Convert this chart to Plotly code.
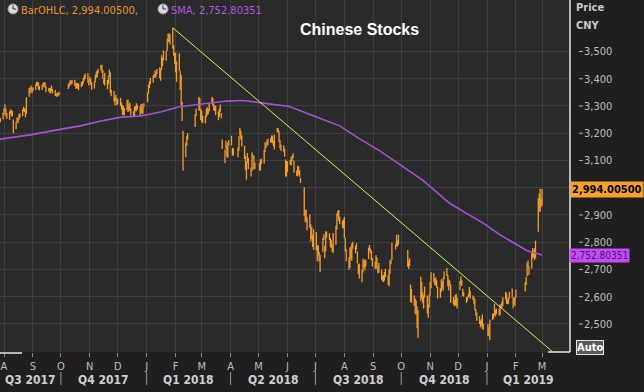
import pandas as pd
import plotly.graph_objects as go

# ---------------- data ----------------
# Daily OHLC bars, one line per month (Jul-2017 ... Mar-2019)
opens = [
    3246, 3244, 3252,
    3274, 3290, 3283, 3266, 3257, 3276, 3274, 3274, 3246, 3215, 3240, 3249, 3250, 3260, 3270, 3289, 3286, 3284, 3275, 3338, 3359, 3361, 3363,
    3362, 3365, 3377, 3379, 3384, 3363, 3363, 3375, 3378, 3384, 3368, 3355, 3362, 3352, 3365, 3355, 3352, 3340, 3341, 3345, 3340,
    3371, 3377, 3384, 3387, 3388, 3392, 3376, 3373, 3378, 3363, 3378, 3380, 3389, 3398, 3407, 3413, 3388,
    3394, 3392, 3382, 3368, 3391, 3414, 3411, 3427, 3437, 3449, 3421, 3394, 3399, 3366, 3388, 3411, 3416, 3345, 3351, 3313, 3330, 3326,
    3313, 3313, 3302, 3297, 3287, 3270, 3287, 3316, 3283, 3304, 3283, 3267, 3267, 3294, 3282, 3298, 3295, 3277, 3302, 3271, 3296,
    3314, 3347, 3371, 3386, 3392, 3406, 3415, 3416, 3423, 3428, 3403, 3437, 3452, 3475, 3476, 3505, 3550, 3554, 3550, 3563, 3512, 3481,
    3478, 3419, 3435, 3426, 3384, 3305, 3208, 3122, 3165, 3185, 3225, 3270, 3289, 3326, 3280,
    3243, 3258, 3248, 3260, 3290, 3274, 3287, 3314, 3325, 3306, 3289, 3295, 3272, 3268, 3300, 3271, 3160, 3127, 3160, 3145, 3117, 3165,
    3169, 3146, 3137, 3117, 3140, 3198, 3205, 3188, 3152, 3112, 3040, 3098, 3104, 3060, 3072, 3108, 3111, 3079,
    3075, 3073, 3097, 3091, 3134, 3157, 3163, 3176, 3172, 3172, 3183, 3172, 3146, 3207, 3212, 3206, 3164, 3154, 3137, 3131, 3102, 3042,
    3084, 3085, 3088, 3111, 3118, 3099, 3062, 3050, 3071, 3049, 3035, 2990, 2896, 2911, 2864, 2898, 2854, 2840, 2809, 2785,
    2835, 2768, 2782, 2759, 2722, 2766, 2822, 2754, 2775, 2838, 2828, 2807, 2797, 2788, 2761, 2808, 2858, 2906, 2904, 2883, 2870, 2862,
    2877, 2813, 2763, 2737, 2717, 2776, 2738, 2785, 2768, 2785, 2764, 2692, 2717, 2655, 2693, 2726, 2711, 2719, 2741, 2778, 2770, 2767, 2729,
    2718, 2717, 2743, 2700, 2697, 2699, 2672, 2666, 2674, 2690, 2677, 2643, 2690, 2729, 2740, 2778, 2786, 2799, 2796,
    2768, 2713, 2723, 2643, 2594, 2600, 2573, 2563, 2560, 2467, 2585, 2640, 2587, 2567, 2613, 2598, 2545, 2563,
    2623, 2643, 2654, 2656, 2670, 2651, 2629, 2601, 2618, 2653, 2631, 2668, 2683, 2681, 2627, 2653, 2634, 2589, 2586, 2574, 2609, 2566,
    2647, 2650, 2643, 2626, 2613, 2584, 2588, 2605, 2603, 2621, 2591, 2591, 2583, 2544, 2526, 2513, 2509, 2510, 2522, 2487,
    2497, 2461, 2446, 2529, 2534, 2534, 2541, 2541, 2548, 2536, 2568, 2571, 2568, 2598, 2609, 2576, 2582, 2594, 2608, 2589, 2591, 2580,
    2597, 2623, 2652, 2675, 2719, 2711, 2703, 2770, 2759, 2760, 2742, 2838, 2978, 2952, 2947,
    2954,
]
highs = [
    3254, 3256, 3276,
    3292, 3306, 3291, 3275, 3280, 3288, 3283, 3282, 3250, 3242, 3258, 3256, 3270, 3273, 3288, 3297, 3293, 3287, 3332, 3366, 3370, 3375, 3368,
    3368, 3380, 3390, 3387, 3386, 3373, 3378, 3385, 3388, 3386, 3372, 3365, 3366, 3367, 3375, 3361, 3359, 3348, 3347, 3350, 3351,
    3380, 3386, 3395, 3393, 3395, 3396, 3383, 3384, 3384, 3382, 3387, 3392, 3402, 3413, 3419, 3420, 3396,
    3407, 3400, 3387, 3390, 3415, 3427, 3430, 3437, 3450, 3451, 3432, 3402, 3422, 3395, 3410, 3433, 3423, 3360, 3355, 3333, 3341, 3329,
    3326, 3329, 3313, 3304, 3300, 3293, 3322, 3324, 3306, 3313, 3291, 3281, 3297, 3300, 3310, 3304, 3299, 3307, 3308, 3298, 3310,
    3349, 3379, 3392, 3403, 3412, 3417, 3430, 3427, 3436, 3442, 3437, 3486, 3476, 3504, 3502, 3546, 3566, 3566, 3562, 3587, 3523, 3495,
    3495, 3463, 3494, 3429, 3414, 3315, 3208, 3165, 3191, 3200, 3270, 3290, 3334, 3329, 3289,
    3283, 3265, 3264, 3290, 3295, 3290, 3311, 3334, 3328, 3309, 3300, 3301, 3280, 3291, 3305, 3274, 3177, 3140, 3172, 3154, 3166, 3175,
    3191, 3147, 3144, 3148, 3190, 3220, 3210, 3192, 3154, 3117, 3094, 3127, 3110, 3075, 3130, 3121, 3117, 3093,
    3091, 3104, 3106, 3138, 3167, 3163, 3176, 3180, 3183, 3192, 3191, 3173, 3194, 3219, 3218, 3208, 3174, 3159, 3155, 3143, 3104, 3097,
    3098, 3103, 3114, 3116, 3126, 3100, 3064, 3080, 3079, 3064, 3037, 3002, 2918, 2920, 2891, 2902, 2866, 2856, 2827, 2848,
    2837, 2786, 2790, 2764, 2753, 2815, 2829, 2786, 2839, 2839, 2833, 2815, 2808, 2792, 2834, 2860, 2905, 2915, 2918, 2893, 2879, 2883,
    2893, 2817, 2774, 2746, 2780, 2784, 2795, 2802, 2787, 2796, 2766, 2720, 2722, 2699, 2740, 2731, 2737, 2735, 2780, 2790, 2777, 2769, 2742,
    2729, 2752, 2744, 2712, 2724, 2700, 2679, 2679, 2691, 2703, 2679, 2700, 2734, 2737, 2798, 2793, 2827, 2806, 2827,
    2771, 2733, 2741, 2644, 2628, 2604, 2592, 2586, 2564, 2550, 2673, 2654, 2616, 2605, 2637, 2604, 2570, 2608,
    2654, 2690, 2686, 2666, 2671, 2659, 2637, 2631, 2664, 2657, 2670, 2693, 2705, 2681, 2663, 2659, 2645, 2599, 2587, 2606, 2611, 2597,
    2658, 2674, 2660, 2629, 2617, 2598, 2600, 2611, 2636, 2621, 2604, 2599, 2591, 2555, 2542, 2529, 2513, 2518, 2535, 2501,
    2500, 2488, 2515, 2537, 2538, 2574, 2552, 2556, 2556, 2571, 2573, 2582, 2598, 2618, 2612, 2590, 2597, 2618, 2630, 2596, 2598, 2599,
    2626, 2654, 2672, 2724, 2733, 2712, 2760, 2779, 2770, 2778, 2805, 2961, 2979, 2996, 2960,
    2995,
]
lows = [
    3230, 3240, 3250,
    3267, 3280, 3261, 3253, 3249, 3272, 3263, 3261, 3200, 3215, 3238, 3237, 3248, 3256, 3262, 3281, 3278, 3259, 3271, 3334, 3347, 3357, 3347,
    3354, 3360, 3373, 3373, 3360, 3358, 3359, 3371, 3369, 3367, 3350, 3354, 3348, 3346, 3355, 3346, 3337, 3335, 3334, 3337, 3339,
    3362, 3370, 3379, 3378, 3381, 3373, 3362, 3366, 3363, 3358, 3369, 3373, 3382, 3393, 3399, 3385, 3375,
    3389, 3378, 3360, 3364, 3387, 3404, 3405, 3420, 3431, 3422, 3400, 3381, 3375, 3361, 3380, 3408, 3347, 3336, 3317, 3303, 3318, 3303,
    3307, 3301, 3287, 3268, 3266, 3266, 3284, 3278, 3281, 3286, 3265, 3260, 3262, 3282, 3281, 3288, 3262, 3272, 3272, 3270, 3295,
    3314, 3346, 3366, 3380, 3386, 3403, 3404, 3406, 3417, 3402, 3393, 3433, 3447, 3468, 3466, 3502, 3535, 3534, 3526, 3510, 3484, 3455,
    3424, 3389, 3428, 3360, 3303, 3245, 3062, 3112, 3154, 3176, 3223, 3262, 3283, 3283, 3249,
    3241, 3237, 3236, 3260, 3266, 3270, 3280, 3311, 3300, 3283, 3282, 3266, 3248, 3261, 3279, 3255, 3142, 3091, 3143, 3114, 3110, 3154,
    3155, 3118, 3118, 3112, 3136, 3192, 3177, 3152, 3105, 3066, 3029, 3091, 3068, 3041, 3060, 3104, 3067, 3069,
    3063, 3062, 3087, 3089, 3130, 3146, 3156, 3155, 3165, 3167, 3163, 3152, 3140, 3204, 3203, 3167, 3145, 3135, 3130, 3114, 3041, 3042,
    3058, 3083, 3082, 3097, 3108, 3055, 3042, 3043, 3049, 3040, 3017, 2897, 2873, 2874, 2843, 2853, 2803, 2812, 2782, 2772,
    2770, 2730, 2752, 2729, 2691, 2764, 2808, 2741, 2767, 2816, 2808, 2782, 2779, 2764, 2761, 2790, 2846, 2894, 2878, 2866, 2853, 2850,
    2815, 2766, 2730, 2699, 2705, 2740, 2732, 2776, 2759, 2772, 2722, 2683, 2667, 2653, 2689, 2708, 2697, 2711, 2738, 2769, 2759, 2735, 2711,
    2702, 2708, 2701, 2686, 2688, 2662, 2657, 2653, 2659, 2672, 2644, 2638, 2683, 2719, 2736, 2773, 2786, 2783, 2792,
    2710, 2702, 2713, 2581, 2577, 2567, 2538, 2534, 2484, 2449, 2585, 2593, 2576, 2557, 2597, 2538, 2523, 2560,
    2604, 2631, 2654, 2643, 2641, 2633, 2593, 2596, 2617, 2629, 2622, 2664, 2676, 2638, 2623, 2640, 2578, 2571, 2565, 2568, 2566, 2557,
    2624, 2646, 2639, 2603, 2600, 2577, 2585, 2597, 2601, 2593, 2588, 2573, 2550, 2530, 2512, 2500, 2488, 2495, 2482, 2480,
    2456, 2455, 2440, 2514, 2519, 2533, 2527, 2536, 2531, 2532, 2560, 2557, 2566, 2590, 2574, 2572, 2574, 2592, 2597, 2558, 2575, 2566,
    2596, 2619, 2643, 2675, 2707, 2680, 2703, 2740, 2746, 2735, 2741, 2838, 2913, 2912, 2928,
    2934,
]
closes = [
    3250, 3253, 3273,
    3292, 3285, 3272, 3262, 3279, 3281, 3276, 3262, 3209, 3237, 3251, 3246, 3268, 3268, 3286, 3290, 3287, 3271, 3331, 3362, 3365, 3363, 3361,
    3367, 3379, 3385, 3385, 3365, 3365, 3377, 3384, 3384, 3371, 3353, 3362, 3356, 3366, 3357, 3353, 3342, 3343, 3345, 3340, 3349,
    3374, 3383, 3388, 3387, 3390, 3379, 3372, 3381, 3370, 3379, 3380, 3388, 3397, 3408, 3417, 3391, 3393,
    3396, 3383, 3372, 3389, 3413, 3415, 3427, 3433, 3447, 3430, 3402, 3399, 3382, 3392, 3410, 3430, 3351, 3353, 3322, 3333, 3338, 3317,
    3318, 3310, 3304, 3294, 3272, 3289, 3322, 3280, 3303, 3292, 3266, 3268, 3297, 3288, 3301, 3297, 3280, 3306, 3275, 3296, 3307,
    3349, 3369, 3386, 3392, 3410, 3414, 3421, 3425, 3429, 3410, 3437, 3444, 3474, 3488, 3501, 3546, 3559, 3548, 3558, 3524, 3488, 3481,
    3447, 3462, 3487, 3371, 3310, 3262, 3129, 3154, 3185, 3199, 3268, 3290, 3329, 3292, 3259,
    3273, 3254, 3256, 3290, 3272, 3288, 3308, 3327, 3310, 3291, 3292, 3270, 3279, 3291, 3281, 3263, 3153, 3134, 3167, 3123, 3161, 3169,
    3163, 3137, 3131, 3138, 3190, 3208, 3180, 3159, 3111, 3067, 3091, 3118, 3071, 3068, 3129, 3118, 3076, 3082,
    3081, 3101, 3091, 3137, 3161, 3159, 3174, 3163, 3174, 3192, 3170, 3155, 3193, 3214, 3214, 3169, 3154, 3141, 3135, 3120, 3041, 3095,
    3075, 3091, 3114, 3115, 3110, 3067, 3053, 3080, 3050, 3044, 3022, 2907, 2916, 2875, 2890, 2860, 2845, 2814, 2786, 2847,
    2776, 2786, 2759, 2733, 2747, 2815, 2827, 2778, 2837, 2832, 2814, 2798, 2787, 2773, 2829, 2860, 2905, 2904, 2882, 2874, 2870, 2876,
    2824, 2768, 2741, 2705, 2780, 2745, 2795, 2795, 2785, 2781, 2724, 2705, 2669, 2698, 2733, 2714, 2725, 2730, 2780, 2777, 2769, 2737, 2725,
    2721, 2751, 2705, 2692, 2703, 2670, 2665, 2657, 2686, 2682, 2652, 2700, 2731, 2730, 2797, 2781, 2807, 2792, 2821,
    2716, 2721, 2725, 2584, 2607, 2568, 2547, 2562, 2486, 2550, 2655, 2595, 2603, 2604, 2599, 2543, 2569, 2603,
    2606, 2677, 2665, 2659, 2641, 2635, 2599, 2630, 2655, 2632, 2668, 2679, 2703, 2646, 2651, 2646, 2580, 2576, 2575, 2602, 2568, 2588,
    2655, 2666, 2650, 2606, 2606, 2585, 2594, 2603, 2634, 2594, 2598, 2577, 2550, 2537, 2516, 2528, 2505, 2499, 2483, 2494,
    2465, 2464, 2515, 2534, 2527, 2545, 2536, 2554, 2535, 2570, 2571, 2560, 2596, 2611, 2579, 2582, 2592, 2602, 2597, 2594, 2575, 2585,
    2618, 2654, 2671, 2721, 2720, 2682, 2755, 2755, 2761, 2751, 2804, 2961, 2941, 2954, 2941,
    2994.005,
]

# Market holidays inside the period (no bars on these weekdays)
holidays = [
    "2017-10-02", "2017-10-03", "2017-10-04", "2017-10-05", "2017-10-06",
    "2018-01-01", "2018-02-15", "2018-02-16", "2018-02-19", "2018-02-20", "2018-02-21",
    "2018-04-05", "2018-04-06", "2018-04-30", "2018-05-01", "2018-06-18", "2018-09-24",
    "2018-10-01", "2018-10-02", "2018-10-03", "2018-10-04", "2018-10-05",
    "2018-12-31", "2019-01-01",
    "2019-02-04", "2019-02-05", "2019-02-06", "2019-02-07", "2019-02-08",
]

# Simple moving average line
sma_dates = [
    "2017-07-27", "2017-08-29", "2017-09-30", "2017-10-22", "2017-11-13", "2017-12-05",
    "2017-12-26", "2018-01-17", "2018-02-05", "2018-03-28", "2018-04-15", "2018-05-02",
    "2018-06-03", "2018-06-28", "2018-07-16", "2018-07-27", "2018-08-17", "2018-09-08",
    "2018-10-24", "2018-11-22", "2018-12-10", "2018-12-28", "2019-01-15", "2019-02-02",
    "2019-02-13", "2019-03-01",
]
sma_values = [
    3178, 3194, 3214, 3227, 3245, 3259,
    3263, 3279, 3297, 3318, 3320, 3313,
    3298, 3265, 3240, 3227, 3180, 3135,
    3028, 2943, 2906, 2870, 2827, 2790,
    2769, 2752.80351,
]

# Yellow down-trend line (hand-drawn)
trend_dates = ["2018-01-29", "2019-03-12"]
trend_values = [3587, 2399]

y_ticks = [2500, 2600, 2700, 2800, 2900, 3000, 3100, 3200, 3300, 3400, 3500]
y_hidden_labels = [3000]  # covered by the last-price tag in the original

# ---------------- build ----------------
days = pd.bdate_range("2017-07-27", "2019-03-01")
days = days[~days.isin(pd.to_datetime(holidays))]
if not (len(days) == len(opens) == len(highs) == len(lows) == len(closes)):
    raise ValueError(f"length mismatch {len(days)} {len(opens)} {len(highs)} {len(lows)} {len(closes)}")

ORANGE = "#f49d2c"
PURPLE = "#a84fd8"
YELLOW = "#e6e65a"
PAPER = "#1f1f1f"
PLOT = "#2a2a2a"
GRID = "#3e3e3e"
AXTXT = "#bdbdbd"
FONT = "DejaVu Sans Condensed, DejaVu Sans, sans-serif"

W, H = 644, 392
PW, PH = 570, 352  # plot area in pixels


def px(x):
    return x / PW


def py(y):
    return 1 - y / PH


fig = go.Figure()
fig.add_trace(go.Ohlc(
    x=days, open=opens, high=highs, low=lows, close=closes,
    increasing=dict(line=dict(color=ORANGE, width=1.3)),
    decreasing=dict(line=dict(color=ORANGE, width=1.3)),
    tickwidth=0.2, showlegend=False, hoverinfo="skip",
))
fig.add_trace(go.Scatter(
    x=pd.to_datetime(sma_dates), y=sma_values, mode="lines",
    line=dict(color=PURPLE, width=1.6), showlegend=False, hoverinfo="skip",
))
fig.add_trace(go.Scatter(
    x=pd.to_datetime(trend_dates), y=trend_values, mode="lines",
    line=dict(color=YELLOW, width=1), showlegend=False, hoverinfo="skip",
))

month_starts = pd.date_range("2017-08-01", "2019-03-01", freq="MS")
month_letters = [d.strftime("%b")[0] for d in month_starts]

x_start = pd.Timestamp("2017-07-27 17:00")
x_end = pd.Timestamp("2019-03-31")

fig.update_layout(
    width=W, height=H,
    margin=dict(l=0, r=W - PW, t=0, b=H - PH, pad=0),
    paper_bgcolor=PAPER, plot_bgcolor=PLOT,
    font=dict(family=FONT, color=AXTXT, size=11),
    showlegend=False,
    xaxis=dict(
        type="date", range=[x_start, x_end],
        rangeslider=dict(visible=False),
        tickmode="array", tickvals=month_starts, ticktext=month_letters,
        ticks="outside", ticklen=4, tickcolor="#8a8a8a",
        tickfont=dict(size=11, color=AXTXT, family=FONT),
        showgrid=True, gridcolor=GRID, gridwidth=1,
        zeroline=False, showline=False,
    ),
    yaxis=dict(
        side="right", range=[2397, 3689],
        tickmode="array", tickvals=y_ticks,
        ticktext=["" if v in y_hidden_labels else f"{v:,}" for v in y_ticks],
        ticks="", ticklabelstandoff=13,
        tickfont=dict(size=11, color=AXTXT, family=FONT),
        showgrid=True, gridcolor=GRID, gridwidth=1,
        zeroline=False, showline=False,
    ),
)

shapes = []
# tick dashes on the price scale
for v in y_ticks:
    if v in y_hidden_labels:
        continue
    shapes.append(dict(type="line", xref="paper", yref="y", x0=px(579), x1=px(583), y0=v, y1=v,
                       line=dict(color="#b0b0b0", width=1)))
# white frame pieces
shapes.append(dict(type="line", xref="paper", yref="paper", x0=px(570), x1=px(570), y0=py(352), y1=py(0),
                   line=dict(color="#e8e8e8", width=1.5)))
shapes.append(dict(type="line", xref="paper", yref="paper", x0=px(548), x1=px(570), y0=py(352), y1=py(352),
                   line=dict(color="#e8e8e8", width=1.5)))
shapes.append(dict(type="line", xref="paper", yref="paper", x0=px(0), x1=px(22), y0=py(353), y1=py(353),
                   line=dict(color="#e8e8e8", width=1.5)))
# quarter separators
for q in pd.date_range("2017-10-01", "2019-01-01", freq="QS"):
    shapes.append(dict(type="line", xref="x", yref="paper", x0=q, x1=q, y0=py(372), y1=py(385),
                       line=dict(color="#9a9a9a", width=1)))
# clock icons in the legend
for cx in (13, 163):
    cy = 9
    shapes.append(dict(type="circle", xref="paper", yref="paper",
                       x0=px(cx - 5), x1=px(cx + 5), y0=py(cy + 5), y1=py(cy - 5),
                       fillcolor="#d8d8d8", line=dict(color="#9a9a9a", width=1)))
    shapes.append(dict(type="line", xref="paper", yref="paper", x0=px(cx), x1=px(cx), y0=py(cy), y1=py(cy - 3.5),
                       line=dict(color="#333333", width=1)))
    shapes.append(dict(type="line", xref="paper", yref="paper", x0=px(cx), x1=px(cx + 3), y0=py(cy), y1=py(cy),
                       line=dict(color="#333333", width=1)))
fig.update_layout(shapes=shapes)

ann = []
# title
ann.append(dict(text="<b>Chinese Stocks</b>", xref="paper", yref="paper", x=px(359), y=py(30),
                xanchor="center", yanchor="middle", showarrow=False,
                font=dict(family="Liberation Sans, Arial, sans-serif", size=16, color="#ffffff")))
# legend texts
ann.append(dict(text=f"BarOHLC, {closes[-1]:,.5f},", xref="paper", yref="paper", x=px(19), y=py(10),
                xanchor="left", yanchor="middle", showarrow=False,
                font=dict(family=FONT, size=11, color="#e8952b")))
ann.append(dict(text=f"SMA, {sma_values[-1]:,.5f}", xref="paper", yref="paper", x=px(169), y=py(10),
                xanchor="left", yanchor="middle", showarrow=False,
                font=dict(family=FONT, size=11, color="#b357e0")))
# price scale header
ann.append(dict(text="<b>Price</b>", xref="paper", yref="paper", x=px(574), y=py(8),
                xanchor="left", yanchor="middle", showarrow=False,
                font=dict(family=FONT, size=11, color="#c8c8c8")))
ann.append(dict(text="<b>CNY</b>", xref="paper", yref="paper", x=px(574), y=py(25),
                xanchor="left", yanchor="middle", showarrow=False,
                font=dict(family=FONT, size=11, color="#c8c8c8")))
# last-value tags
ann.append(dict(text=f"<b>{closes[-1]:,.5f}</b>", xref="paper", yref="y", x=px(570), y=closes[-1],
                xanchor="left", yanchor="middle", showarrow=False, bgcolor="#f7a12b", borderpad=1,
                font=dict(family=FONT, size=11, color="#000000")))
ann.append(dict(text=f"{sma_values[-1]:,.5f}", xref="paper", yref="y", x=px(569), y=sma_values[-1],
                xanchor="left", yanchor="middle", showarrow=False, bgcolor="#c34cf5", borderpad=1,
                font=dict(family=FONT, size=10, color="#4b0c78")))
# Auto button
ann.append(dict(text="<b>Auto</b>", xref="paper", yref="paper", x=px(576), y=py(347),
                xanchor="left", yanchor="middle", showarrow=False, bgcolor="#5a5a5a",
                bordercolor="#e6e6e6", borderwidth=1, borderpad=0,
                font=dict(family=FONT, size=11, color="#ffffff")))
# quarter labels, centred on the visible part of each quarter
q_starts = pd.date_range("2017-07-01", "2019-01-01", freq="QS")
for qs in q_starts:
    qe = qs + pd.offsets.QuarterBegin(startingMonth=1)
    a, b = max(qs, x_start), min(qe, x_end)
    mid = a + (b - a) / 2
    label = f"Q{qs.quarter} {qs.year}"
    ann.append(dict(text=f"<b>{label}</b>", xref="x", yref="paper", x=mid, y=py(380),
                    xanchor="center", yanchor="middle", showarrow=False,
                    font=dict(family=FONT, size=12, color="#cfcfcf")))
fig.update_layout(annotations=ann)

fig.write_html(
    "out.html",
    config={"displayModeBar": False, "staticPlot": True},
    post_script="document.body.style.margin='0';document.body.style.overflow='hidden';",
)
